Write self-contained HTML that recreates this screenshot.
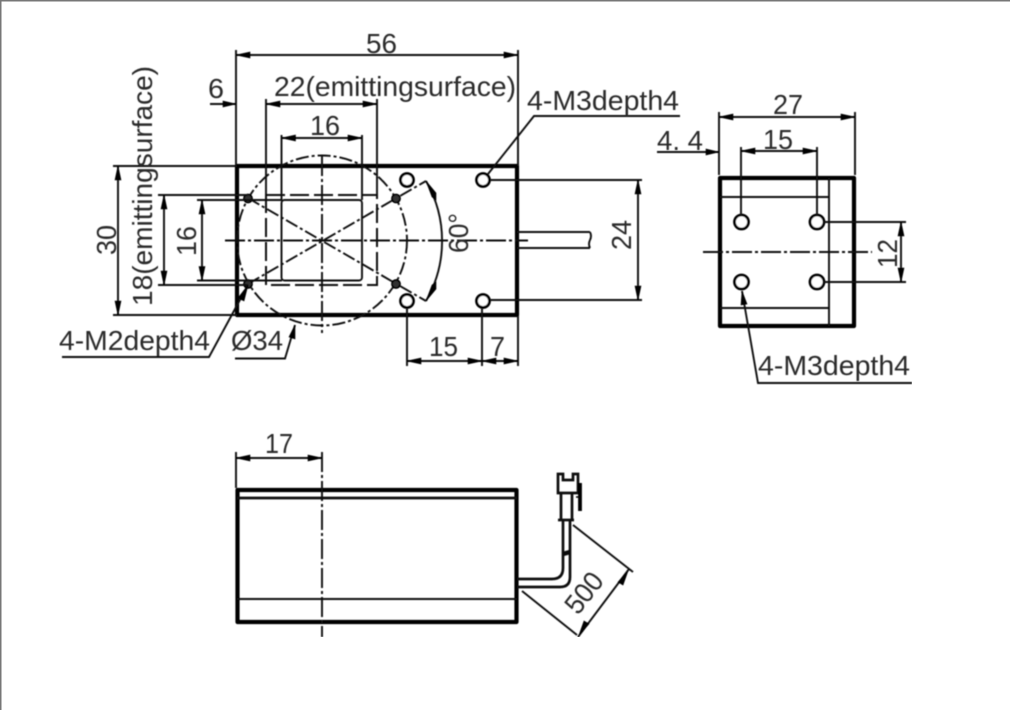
<!DOCTYPE html>
<html><head><meta charset="utf-8"><style>
html,body{margin:0;padding:0;background:#fff;width:1010px;height:710px;overflow:hidden}
svg{display:block;position:absolute;left:0;top:0}
text{font-family:"Liberation Sans",sans-serif;font-size:28px;fill:#2a2a2a}
.t{stroke:#111;stroke-width:1.9;fill:none}
.k{stroke:#000;stroke-width:4.2;fill:none;stroke-linejoin:round}
.m{stroke:#111;stroke-width:2.7;fill:none}
.c{stroke:#111;stroke-width:1.9;fill:none;stroke-dasharray:20 3 3 3}
.d{stroke:#111;stroke-width:2;fill:none;stroke-dasharray:19 5}
.x{stroke:#111;stroke-width:1.9;fill:none;stroke-dasharray:13 3 3 3}
.a{fill:#000;stroke:#000;stroke-width:.6}
</style></head><body>
<svg width="1010" height="710" viewBox="0 0 1010 710" xmlns="http://www.w3.org/2000/svg">
<defs><filter id="b" x="0" y="0" width="100%" height="100%"><feGaussianBlur stdDeviation="0.45"/></filter></defs>
<rect x="0" y="0" width="1010" height="1.5" fill="#777"/>
<rect x="0" y="0" width="1.5" height="710" fill="#777"/>
<g filter="url(#b)">
<!-- FRONT VIEW -->
<rect class="k" x="237" y="166" width="280" height="149"/>
<circle class="x" cx="322" cy="240.500" r="85"/>
<rect class="d" x="266" y="195" width="111" height="90"/>
<rect class="t" x="281.500" y="200" width="80.500" height="80.500" rx="3"/>
<path class="c" d="M225 240.500H528"/>
<path class="c" d="M322 156V333"/>
<path class="x" d="M248 198L426 301M248 284L426 181"/>
<path class="t" d="M426 181A120 120 0 0 1 426 301"/>
<path class="a" d="M426 181l10 12 0 7-4-3zM426 301l10-12 0-7-4 3z"/>
<g fill="#333" stroke="#000" stroke-width="1.8">
<circle cx="248" cy="198.500" r="4"/><circle cx="248" cy="284" r="4"/>
<circle cx="396" cy="198.500" r="4"/><circle cx="396" cy="284" r="4"/></g>
<g fill="#fff" stroke="#000" stroke-width="2.8">
<circle cx="407" cy="180" r="6.500"/><circle cx="483" cy="180" r="6.500"/>
<circle cx="407" cy="301" r="6.500"/><circle cx="483" cy="301" r="6.500"/></g>
<!-- wire -->
<path class="t" d="M517 232H590M517 248H590M590 232q2 4 0 8t0 8"/>
<!-- 56 -->
<path class="t" d="M236 50V166M518 50V166M236 55H518"/>
<path class="a" d="M236 55l14-3v6zM518 55l-14-3v6z"/>
<!-- 6 -->
<path class="t" d="M210 104H236"/><path class="a" d="M236 104l-13-3v6z"/>
<!-- 22 -->
<path class="t" d="M266 99V195M377 99V195M266 104H377"/>
<path class="a" d="M266 104l14-3v6zM377 104l-14-3v6z"/>
<!-- 16 top -->
<path class="t" d="M281.500 135V200M362 135V200M281.500 138H362"/>
<path class="a" d="M281.500 138l14-3v6zM362 138l-14-3v6z"/>
<!-- 30 -->
<path class="t" d="M113 166H237M113 315H237M118 166V315"/>
<path class="a" d="M118 166l-3 14h6zM118 315l-3-14h6z"/>
<!-- 18 -->
<path class="t" d="M158 195H248M158 285H248M164 195V285"/>
<path class="a" d="M164 195l-3 14h6zM164 285l-3-14h6z"/>
<!-- 16 left -->
<path class="t" d="M197 200H282M197 280.500H282M202 200V280.500"/>
<path class="a" d="M202 200l-3 14h6zM202 280.500l-3-14h6z"/>
<!-- 24 -->
<path class="t" d="M490 180H642M490 300H642M638 180V300"/>
<path class="a" d="M638 180l-3 14h6zM638 300l-3-14h6z"/>
<!-- 15 7 -->
<path class="t" d="M407 308V366M482 308V366M518 316V366M407 361H518"/>
<path class="a" d="M407 361l14-3v6zM482 361l-14-3v6zM482 361l14-3v6zM518 361l-14-3v6z"/>
<!-- leaders -->
<path class="t" d="M62 357H209L248 285"/>
<path class="a" d="M248 285l-10 13 6 3z"/>
<path class="t" d="M235 358.500H285L295 325"/>
<path class="a" d="M295 325l-6 12 6 2z"/>
<path class="t" d="M680 116H534L488 174"/>
<text x="366" y="53" textLength="31" lengthAdjust="spacingAndGlyphs">56</text>
<text x="208" y="98" textLength="16" lengthAdjust="spacingAndGlyphs">6</text>
<text x="274" y="96" textLength="242" lengthAdjust="spacingAndGlyphs">22(emittingsurface)</text>
<text x="310" y="135" textLength="30" lengthAdjust="spacingAndGlyphs">16</text>
<text transform="translate(116 255) rotate(-90)" textLength="30" lengthAdjust="spacingAndGlyphs">30</text>
<text transform="translate(152 306) rotate(-90)" textLength="240" lengthAdjust="spacingAndGlyphs">18(emittingsurface)</text>
<text transform="translate(196 256) rotate(-90)" textLength="30" lengthAdjust="spacingAndGlyphs">16</text>
<text transform="translate(468 253) rotate(-90)" textLength="40" lengthAdjust="spacingAndGlyphs">60°</text>
<text transform="translate(631 250) rotate(-90)" textLength="30" lengthAdjust="spacingAndGlyphs">24</text>
<text x="429" y="356" textLength="29" lengthAdjust="spacingAndGlyphs">15</text>
<text x="490" y="356" textLength="15" lengthAdjust="spacingAndGlyphs">7</text>
<text x="59" y="350" textLength="151" lengthAdjust="spacingAndGlyphs">4-M2depth4</text>
<text x="231" y="350" textLength="52" lengthAdjust="spacingAndGlyphs">Ø34</text>
<text x="527" y="110" textLength="152" lengthAdjust="spacingAndGlyphs">4-M3depth4</text>
<!-- SIDE VIEW -->
<rect class="k" x="720" y="178" width="134" height="148"/>
<path class="t" d="M829 178V326M720 197H829M720 308H829"/>
<path class="c" d="M703 252H872"/>
<g fill="#fff" stroke="#000" stroke-width="2.8">
<circle cx="741.500" cy="222" r="7"/><circle cx="817" cy="222" r="7"/>
<circle cx="741.500" cy="282" r="7"/><circle cx="817" cy="282" r="7"/></g>
<path class="t" d="M719 112V175M855 112V175M719 117H855"/>
<path class="a" d="M719 117l14-3v6zM855 117l-14-3v6z"/>
<path class="t" d="M657 152H718"/><path class="a" d="M719 152l-13-3v6z"/>
<path class="t" d="M741 147V215M817 147V215M741 151H817"/>
<path class="a" d="M741 151l14-3v6zM817 151l-14-3v6z"/>
<path class="t" d="M824 222H906M824 282H906M901 222V282"/>
<path class="a" d="M901 222l-3 14h6zM901 282l-3-14h6z"/>
<path class="t" d="M742 291L758 383H912"/>
<path class="a" d="M742 291l-1 14 6-1z"/>
<text x="773" y="114" textLength="30" lengthAdjust="spacingAndGlyphs">27</text>
<text x="763" y="149" textLength="30" lengthAdjust="spacingAndGlyphs">15</text>
<text x="657" y="150" textLength="46" lengthAdjust="spacingAndGlyphs">4. 4</text>
<text transform="translate(897 268) rotate(-90)" textLength="29" lengthAdjust="spacingAndGlyphs">12</text>
<text x="758" y="375" textLength="152" lengthAdjust="spacingAndGlyphs">4-M3depth4</text>
<!-- BOTTOM VIEW -->
<rect class="k" x="237.500" y="490" width="279" height="132"/>
<path class="m" d="M237 498H517"/>
<path class="t" d="M237 599H517"/>
<path class="c" d="M322 452V637"/>
<path class="t" d="M236 452V488M236 458H322"/>
<path class="a" d="M236 458l14-3v6zM322 458l-14-3v6z"/>
<text x="265" y="453" textLength="28" lengthAdjust="spacingAndGlyphs">17</text>
<!-- cable -->
<path class="m" d="M517 579H552Q563 579 563 568V520M517 587H560Q570 587 570 577V520"/>
<path class="m" d="M563 553L570 551M563 555L570 553"/>
<path class="m" d="M561 520V493M572 520V493M558 520H574"/>
<path class="m" d="M558 493V474H563V480H573V474H578V493Z"/>
<path d="M580 483V511" stroke="#000" stroke-width="3.800" fill="none"/>
<path d="M576 497H580" stroke="#000" stroke-width="1.500" fill="none"/>
<!-- 500 -->
<path class="t" d="M573 525L633 572M522 591L577 635M629 569L578 637"/>
<path class="a" d="M628 571l-10 11 5 3zM579 635l10-11-5-3z"/>
<text transform="translate(578 616) rotate(-52)" textLength="44" lengthAdjust="spacingAndGlyphs">500</text>
</g>
</svg>
</body></html>
